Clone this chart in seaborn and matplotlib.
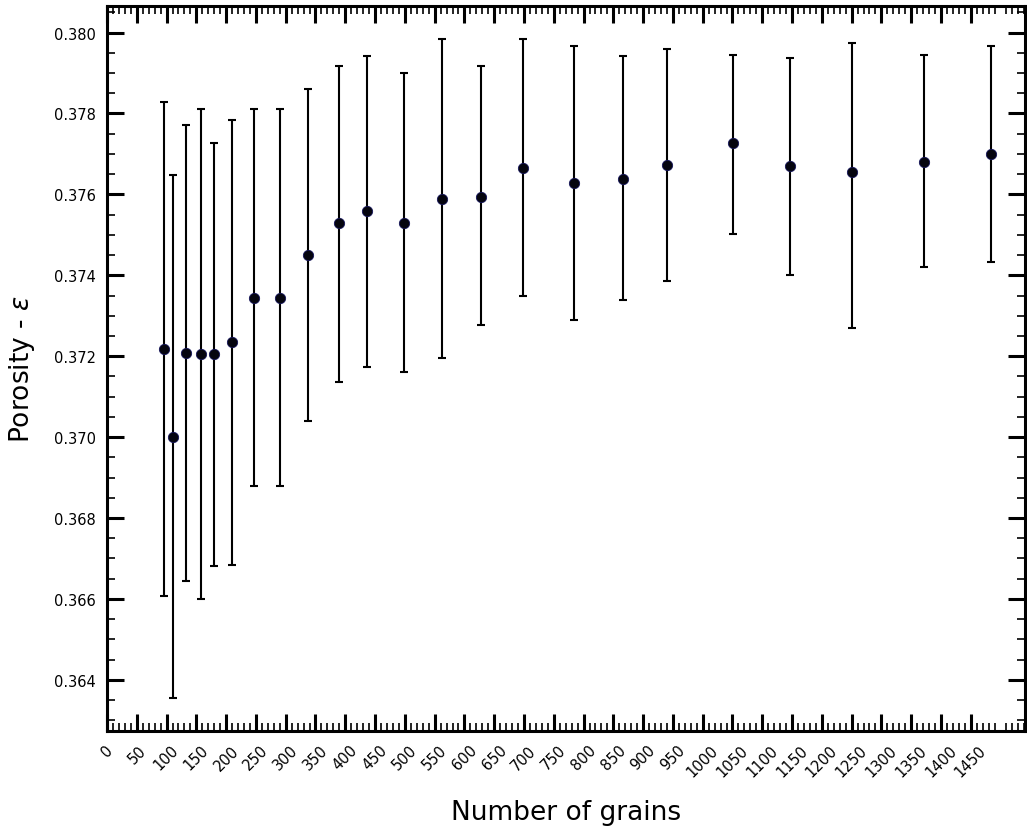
import numpy as np
import pandas as pd
import matplotlib
matplotlib.use("Agg")
import matplotlib.pyplot as plt
from matplotlib.ticker import FixedLocator, AutoMinorLocator, FormatStrFormatter
import seaborn as sns

# Packing sizes (number of grains) and measured porosity with its spread
n_grains = [96, 111, 133, 157, 180, 210, 247, 290, 338, 389, 437, 499,
            562, 628, 698, 784, 866, 940, 1051, 1147, 1251, 1371, 1484]
porosity = [0.37219, 0.37001, 0.37208, 0.37205, 0.37205, 0.37234, 0.37344,
            0.37344, 0.37449, 0.37530, 0.37558, 0.37530, 0.37589, 0.37593,
            0.37666, 0.37629, 0.37639, 0.37673, 0.37726, 0.37670, 0.37656,
            0.37681, 0.37700]
porosity_high = [0.37829, 0.37647, 0.37771, 0.37811, 0.37727, 0.37784, 0.37810,
                 0.37810, 0.37861, 0.37918, 0.37942, 0.37900, 0.37984, 0.37918,
                 0.37984, 0.37967, 0.37942, 0.37960, 0.37945, 0.37938, 0.37975,
                 0.37945, 0.37967]
porosity_low = [0.36608, 0.36355, 0.36645, 0.36600, 0.36682, 0.36684, 0.36878,
                0.36878, 0.37040, 0.37137, 0.37174, 0.37161, 0.37196, 0.37278,
                0.37349, 0.37290, 0.37339, 0.37386, 0.37502, 0.37401, 0.37270,
                0.37421, 0.37433]
x_tick_labels = [str(v) for v in range(0, 1500, 50)]

df = pd.DataFrame({"grains": n_grains, "porosity": porosity,
                   "high": porosity_high, "low": porosity_low})
yerr = np.vstack([df["porosity"] - df["low"], df["high"] - df["porosity"]])

sns.set_theme(style="white")
plt.rcParams["font.family"] = ["DejaVu Sans"]
plt.rcParams["mathtext.fontset"] = "dejavusans"
for key in ("text.color", "axes.labelcolor", "xtick.color", "ytick.color",
            "axes.edgecolor"):
    plt.rcParams[key] = "black"

fig, ax = plt.subplots(figsize=(10.27, 8.28), dpi=100)
fig.subplots_adjust(left=0.1042, right=0.998, top=0.9915, bottom=0.1159)

ax.errorbar(df["grains"], df["porosity"], yerr=yerr, fmt="none",
            ecolor="black", elinewidth=1.5, capsize=3, capthick=1.5, zorder=2)
sns.scatterplot(data=df, x="grains", y="porosity", ax=ax, s=55,
                color="#05050f", edgecolor="#14145a", linewidth=0.6, zorder=3)

ax.set_xlim(0, 1541)

tick_pos = [int(t) for t in x_tick_labels]
ax.xaxis.set_major_locator(FixedLocator(tick_pos))
ax.set_xticklabels(x_tick_labels, rotation=45, ha="center", fontsize=10.5)
minor_pos = [v for v in range(0, 1545, 10) if v % 50 != 0]
ax.xaxis.set_minor_locator(FixedLocator(minor_pos))

ax.yaxis.set_major_locator(FixedLocator([0.364, 0.366, 0.368, 0.370, 0.372,
                                         0.374, 0.376, 0.378, 0.380]))
ax.yaxis.set_minor_locator(AutoMinorLocator(4))
ax.yaxis.set_major_formatter(FormatStrFormatter("%.3f"))
ax.tick_params(axis="y", labelsize=10.5)

ax.tick_params(which="major", direction="in", length=12, width=2.2,
               top=True, right=True, bottom=True, left=True, color="black",
               pad=8)
ax.tick_params(which="minor", direction="in", length=6, width=1.2,
               top=True, right=True, bottom=True, left=True, color="black")

for side in ax.spines.values():
    side.set_linewidth(2.2)
    side.set_color("black")

ax.set_xlabel("Number of grains", fontsize=19, labelpad=14)
ax.set_ylabel(r"Porosity - $\varepsilon$", fontsize=19, labelpad=12)

fig.savefig("out.png", dpi=100, facecolor="white")
